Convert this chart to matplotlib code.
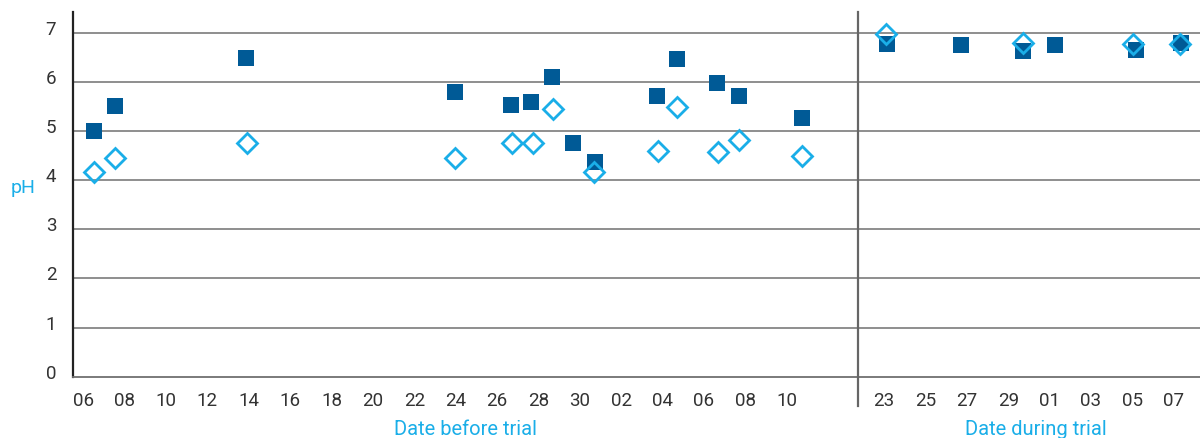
import matplotlib
matplotlib.use("Agg")
import matplotlib.pyplot as plt
from matplotlib.transforms import offset_copy
from matplotlib.lines import Line2D

plt.rcParams['font.family'] = ['Roboto', 'DejaVu Sans']

# ---- data ----
before_tick_labels = ['06', '08', '10', '12', '14', '16', '18', '20', '22', '24',
                      '26', '28', '30', '02', '04', '06', '08', '10']
during_tick_labels = ['23', '25', '27', '29', '01', '03', '05', '07']

# days counted from first "06" tick (before trial)
before_sq_x = [0.53, 1.55, 7.87, 17.94, 20.68, 21.65, 22.66, 23.68, 24.74,
               27.74, 28.7, 30.64, 31.7, 34.75]
before_sq_ph = [4.99, 5.50, 6.48, 5.79, 5.52, 5.58, 6.09, 4.75, 4.36,
                5.72, 6.46, 5.97, 5.72, 5.26]
before_di_x = [0.5, 1.54, 7.9, 17.98, 20.7, 21.75, 22.71, 24.7,
               27.77, 28.7, 30.67, 31.7, 34.73]
before_di_ph = [4.17, 4.46, 4.76, 4.46, 4.76, 4.76, 5.45, 4.17,
                4.59, 5.49, 4.57, 4.82, 4.50]

# days counted from "23" tick (during trial)
during_sq_x = [0.13, 3.73, 6.71, 8.25, 12.18, 14.35]
during_sq_ph = [6.78, 6.74, 6.63, 6.74, 6.65, 6.80]
during_di_x = [0.1, 6.73, 12.03, 14.3]
during_di_ph = [6.97, 6.80, 6.78, 6.77]

during_offset = 38.7
divider_x = 37.42

DARK = '#005a96'
LIGHT = '#1aaee8'
TXT = '#333333'

fig = plt.figure(figsize=(12, 4.39), dpi=100)
W, H = 1200, 439
ax_left, ax_right = 73, 1200
ax_top, ax_bottom = 13, 377.7
ax = fig.add_axes([ax_left / W, 1 - ax_bottom / H,
                   (ax_right - ax_left) / W, (ax_bottom - ax_top) / H])

ax.set_xlim(-0.5, 53.97)
ax.set_ylim(0, (ax_bottom - ax_top) / 49.14)

for v in range(1, 8):
    ax.axhline(v, color='#707070', lw=1.1, zorder=1)

for s in ['top', 'right']:
    ax.spines[s].set_visible(False)
ax.spines['left'].set_color('#222222')
ax.spines['left'].set_linewidth(1.6)
ax.spines['bottom'].set_color('#707070')
ax.spines['bottom'].set_linewidth(1.3)

# divider
ax.add_line(Line2D([divider_x, divider_x], [1.0, -0.08],
                   transform=ax.get_xaxis_transform(), color='#666666',
                   lw=1.6, clip_on=False, zorder=3))

dx = [during_offset + x for x in during_sq_x]
ddx = [during_offset + x for x in during_di_x]

ax.plot(before_sq_x, before_sq_ph, 's', color=DARK, ms=11.2, mew=0, zorder=4, clip_on=False)
ax.plot(dx, during_sq_ph, 's', color=DARK, ms=11.2, mew=0, zorder=4, clip_on=False)
ax.plot(before_di_x, before_di_ph, 'D', mfc='none', mec=LIGHT, ms=10, mew=2.0,
        zorder=5, clip_on=False)
ax.plot(ddx, during_di_ph, 'D', mfc='none', mec=LIGHT, ms=10, mew=2.0,
        zorder=5, clip_on=False)

# x ticks
pos = list(range(0, 2 * len(before_tick_labels), 2)) + \
      [during_offset + 2 * i for i in range(len(during_tick_labels))]
ax.set_xticks(pos)
ax.set_xticklabels(before_tick_labels + during_tick_labels)
ax.tick_params(axis='x', length=0, pad=10, labelsize=13.5, labelcolor=TXT)

# y ticks
ax.set_yticks(range(0, 8))
ax.set_yticklabels([str(v) for v in range(0, 8)])
ax.tick_params(axis='y', length=0, pad=12, labelsize=13.5, labelcolor=TXT)
for lab in ax.get_yticklabels():
    lab.set_transform(offset_copy(lab.get_transform(), fig=fig, x=0, y=6, units='dots'))

# labels
fig.text(23 / W, 1 - 188 / H, 'pH', color=LIGHT, fontsize=14, ha='center', va='center')
fig.text(466 / W, 1 - 430 / H, 'Date before trial', color=LIGHT, fontsize=14.5,
         ha='center', va='center')
fig.text(1036 / W, 1 - 430 / H, 'Date during trial', color=LIGHT, fontsize=14.5,
         ha='center', va='center')

fig.savefig('out.png', dpi=100)
